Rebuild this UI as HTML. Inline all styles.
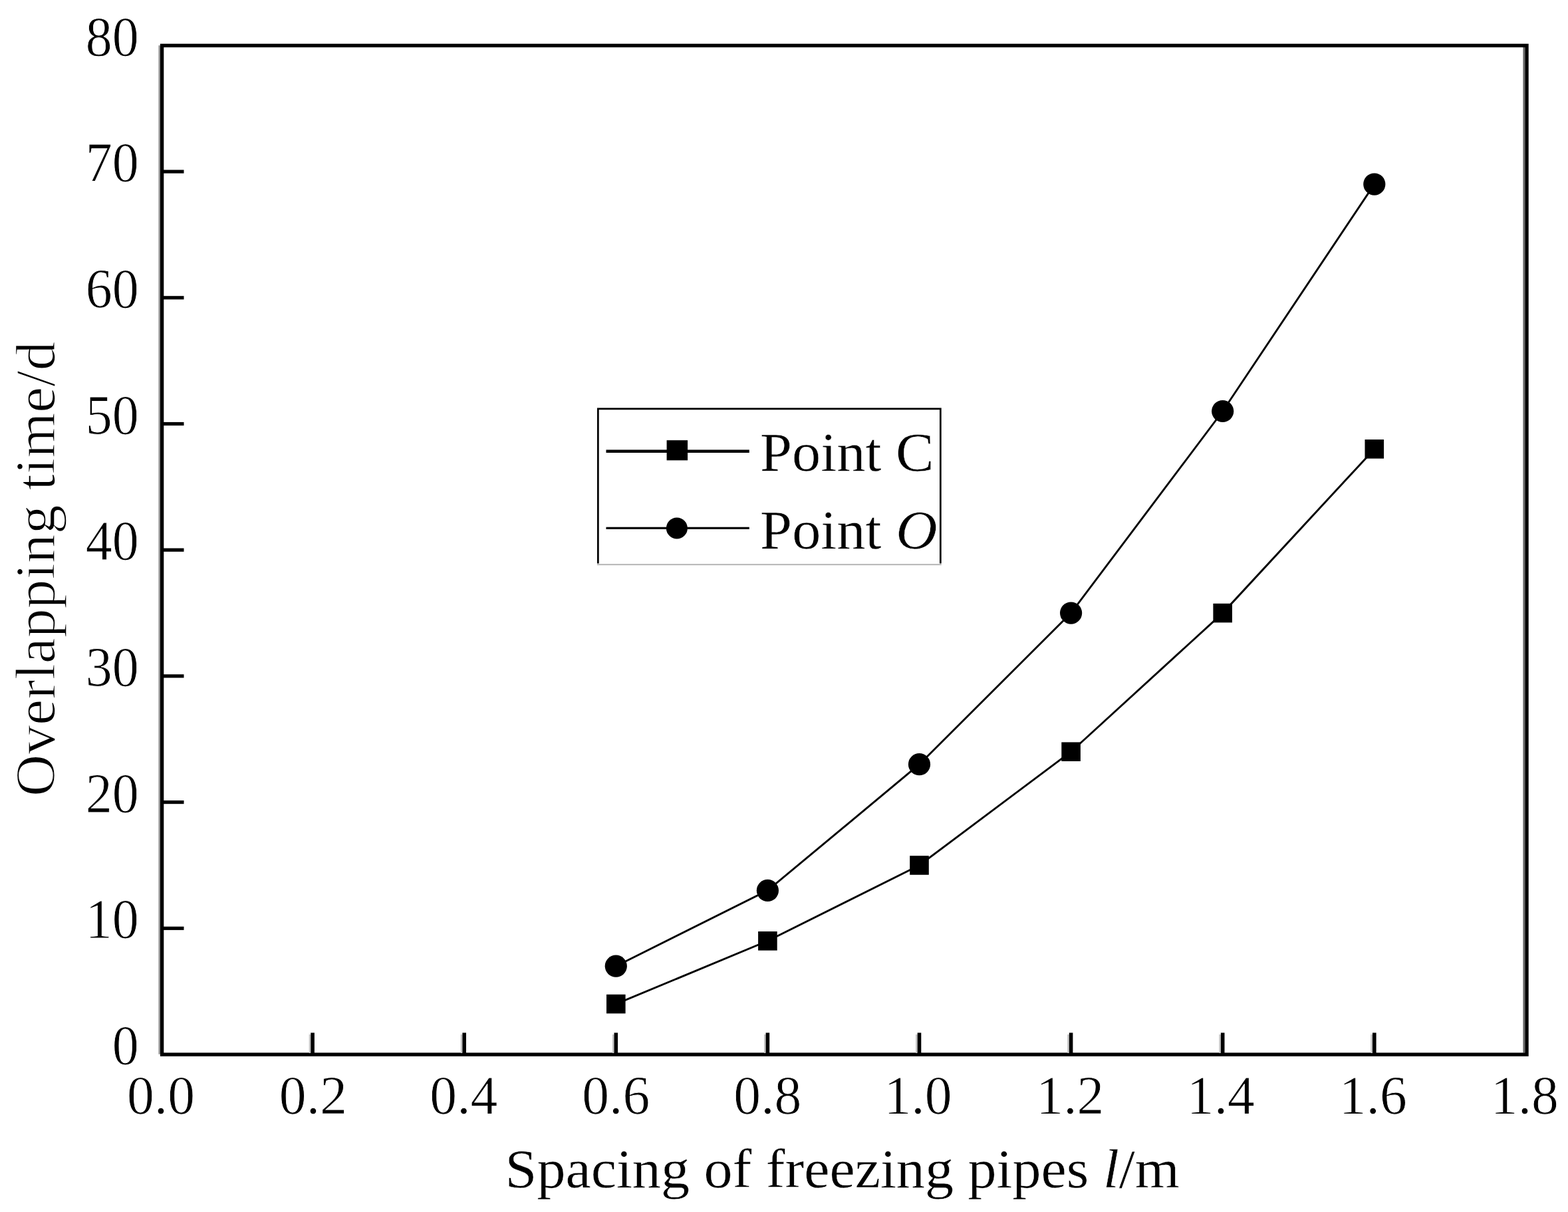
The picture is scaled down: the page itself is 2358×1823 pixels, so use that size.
<!DOCTYPE html>
<html><head><meta charset="utf-8"><style>
html,body{margin:0;padding:0;background:#fff;overflow:hidden;}
svg{display:block;}
text{font-family:"Liberation Serif",serif;font-size:100px;fill:#000;stroke:#fff;}
</style></head><body>
<svg width="2358" height="1823" viewBox="0 0 2358 1823">
<rect width="2358" height="1823" fill="#fff"/>
<rect x="238.4" y="68.3" width="2.6" height="1517.4" fill="#999"/>
<rect x="2290.4" y="71" width="2.8" height="1512.5" fill="#666"/>
<rect x="243.6" y="68.5" width="2052.4" height="1517.6" fill="none" stroke="#000" stroke-width="5.4"/>
<line x1="246" y1="1396.3" x2="276.5" y2="1396.3" stroke="#000" stroke-width="5.2"/>
<line x1="246" y1="1206.6" x2="276.5" y2="1206.6" stroke="#000" stroke-width="5.2"/>
<line x1="246" y1="1016.9" x2="276.5" y2="1016.9" stroke="#000" stroke-width="5.2"/>
<line x1="246" y1="827.2" x2="276.5" y2="827.2" stroke="#000" stroke-width="5.2"/>
<line x1="246" y1="637.5" x2="276.5" y2="637.5" stroke="#000" stroke-width="5.2"/>
<line x1="246" y1="447.8" x2="276.5" y2="447.8" stroke="#000" stroke-width="5.2"/>
<line x1="246" y1="258.1" x2="276.5" y2="258.1" stroke="#000" stroke-width="5.2"/>
<rect x="464.7" y="1556" width="2.6" height="28" fill="#c4c4c4"/>
<line x1="470.1" y1="1584" x2="470.1" y2="1553.4" stroke="#000" stroke-width="5.6"/>
<rect x="692.8" y="1556" width="2.6" height="28" fill="#c4c4c4"/>
<line x1="698.2" y1="1584" x2="698.2" y2="1553.4" stroke="#000" stroke-width="5.6"/>
<rect x="920.9" y="1556" width="2.6" height="28" fill="#c4c4c4"/>
<line x1="926.3" y1="1584" x2="926.3" y2="1553.4" stroke="#000" stroke-width="5.6"/>
<rect x="1149.0" y="1556" width="2.6" height="28" fill="#c4c4c4"/>
<line x1="1154.4" y1="1584" x2="1154.4" y2="1553.4" stroke="#000" stroke-width="5.6"/>
<rect x="1377.1" y="1556" width="2.6" height="28" fill="#c4c4c4"/>
<line x1="1382.5" y1="1584" x2="1382.5" y2="1553.4" stroke="#000" stroke-width="5.6"/>
<rect x="1605.2" y="1556" width="2.6" height="28" fill="#c4c4c4"/>
<line x1="1610.6" y1="1584" x2="1610.6" y2="1553.4" stroke="#000" stroke-width="5.6"/>
<rect x="1833.3" y="1556" width="2.6" height="28" fill="#c4c4c4"/>
<line x1="1838.7" y1="1584" x2="1838.7" y2="1553.4" stroke="#000" stroke-width="5.6"/>
<rect x="2061.4" y="1556" width="2.6" height="28" fill="#c4c4c4"/>
<line x1="2066.8" y1="1584" x2="2066.8" y2="1553.4" stroke="#000" stroke-width="5.6"/>
<text transform="translate(168.65,1601.15) scale(0.7989,0.8485)" x="0" y="0" stroke-width="1.0">0</text>
<text transform="translate(128.70,1411.45) scale(0.7989,0.8485)" x="0" y="0" stroke-width="1.0">10</text>
<text transform="translate(128.70,1221.75) scale(0.7989,0.8485)" x="0" y="0" stroke-width="1.0">20</text>
<text transform="translate(128.70,1032.05) scale(0.7989,0.8485)" x="0" y="0" stroke-width="1.0">30</text>
<text transform="translate(128.70,842.35) scale(0.7989,0.8485)" x="0" y="0" stroke-width="1.0">40</text>
<text transform="translate(128.70,652.65) scale(0.7989,0.8485)" x="0" y="0" stroke-width="1.0">50</text>
<text transform="translate(128.70,462.95) scale(0.7989,0.8485)" x="0" y="0" stroke-width="1.0">60</text>
<text transform="translate(128.70,273.25) scale(0.7989,0.8485)" x="0" y="0" stroke-width="1.0">70</text>
<text transform="translate(128.70,83.55) scale(0.7989,0.8485)" x="0" y="0" stroke-width="1.0">80</text>
<text transform="translate(190.94,1674.98) scale(0.8170,0.8182)" x="0" y="0" stroke-width="1.0">0.0</text>
<text transform="translate(419.86,1674.98) scale(0.8170,0.8182)" x="0" y="0" stroke-width="1.0">0.2</text>
<text transform="translate(646.32,1674.98) scale(0.8170,0.8182)" x="0" y="0" stroke-width="1.0">0.4</text>
<text transform="translate(875.24,1674.98) scale(0.8170,0.8182)" x="0" y="0" stroke-width="1.0">0.6</text>
<text transform="translate(1103.34,1674.98) scale(0.8170,0.8182)" x="0" y="0" stroke-width="1.0">0.8</text>
<text transform="translate(1329.40,1674.98) scale(0.8170,0.8182)" x="0" y="0" stroke-width="1.0">1.0</text>
<text transform="translate(1558.31,1674.98) scale(0.8170,0.8182)" x="0" y="0" stroke-width="1.0">1.2</text>
<text transform="translate(1784.78,1674.98) scale(0.8170,0.8182)" x="0" y="0" stroke-width="1.0">1.4</text>
<text transform="translate(2013.70,1674.98) scale(0.8170,0.8182)" x="0" y="0" stroke-width="1.0">1.6</text>
<text transform="translate(2241.80,1674.98) scale(0.8170,0.8182)" x="0" y="0" stroke-width="1.0">1.8</text>
<polyline points="926.3,1453.2 1154.4,1339.4 1382.5,1149.7 1610.6,922.1 1838.7,618.5 2066.8,277.1" fill="none" stroke="#000" stroke-width="2.9"/>
<polyline points="926.3,1510.1 1154.4,1415.3 1382.5,1301.5 1610.6,1130.7 1838.7,922.1 2066.8,675.4" fill="none" stroke="#000" stroke-width="2.9"/>
<circle cx="926.3" cy="1453.2" r="16.6"/>
<circle cx="1154.4" cy="1339.4" r="16.6"/>
<circle cx="1382.5" cy="1149.7" r="16.6"/>
<circle cx="1610.6" cy="922.1" r="16.6"/>
<circle cx="1838.7" cy="618.5" r="16.6"/>
<circle cx="2066.8" cy="277.1" r="16.6"/>
<rect x="912.0" y="1495.8" width="28.6" height="28.6"/>
<rect x="1140.1" y="1401.0" width="28.6" height="28.6"/>
<rect x="1368.2" y="1287.2" width="28.6" height="28.6"/>
<rect x="1596.3" y="1116.4" width="28.6" height="28.6"/>
<rect x="1824.4" y="907.8" width="28.6" height="28.6"/>
<rect x="2052.5" y="661.1" width="28.6" height="28.6"/>
<rect x="898" y="613.5" width="517.7" height="234" fill="#fff"/>
<path d="M899.35,847.5 V614.8 H1414.35 V847.5" fill="none" stroke="#000" stroke-width="2.7"/>
<rect x="898" y="848.2" width="517.7" height="2" fill="#b4b4b4"/>
<line x1="911.5" y1="678.7" x2="1126.8" y2="678.7" stroke="#000" stroke-width="4.6"/>
<rect x="1002.6" y="662.2" width="31.5" height="30.2"/>
<line x1="911.5" y1="794.3" x2="1126.8" y2="794.3" stroke="#000" stroke-width="3.3"/>
<circle cx="1017.9" cy="794.5" r="16"/>
<text transform="translate(1143.11,707.97) scale(0.8633,0.8318)" x="0" y="0" stroke-width="0.5">Point C</text>
<text transform="translate(1143.11,824.58) scale(0.8640,0.8182)" x="0" y="0" stroke-width="0.5">Point <tspan font-style="italic">O</tspan></text>
<text transform="translate(759.47,1785.65) scale(0.8616,0.8261)" x="0" y="0" stroke-width="0.5">Spacing of freezing pipes <tspan font-style="italic">l</tspan>/m</text>
<text transform="translate(82.18,1197.89) rotate(-90) scale(0.8772,0.8409)" x="0" y="0" stroke-width="1.6">Overlapping time/d</text>
</svg>
</body></html>
